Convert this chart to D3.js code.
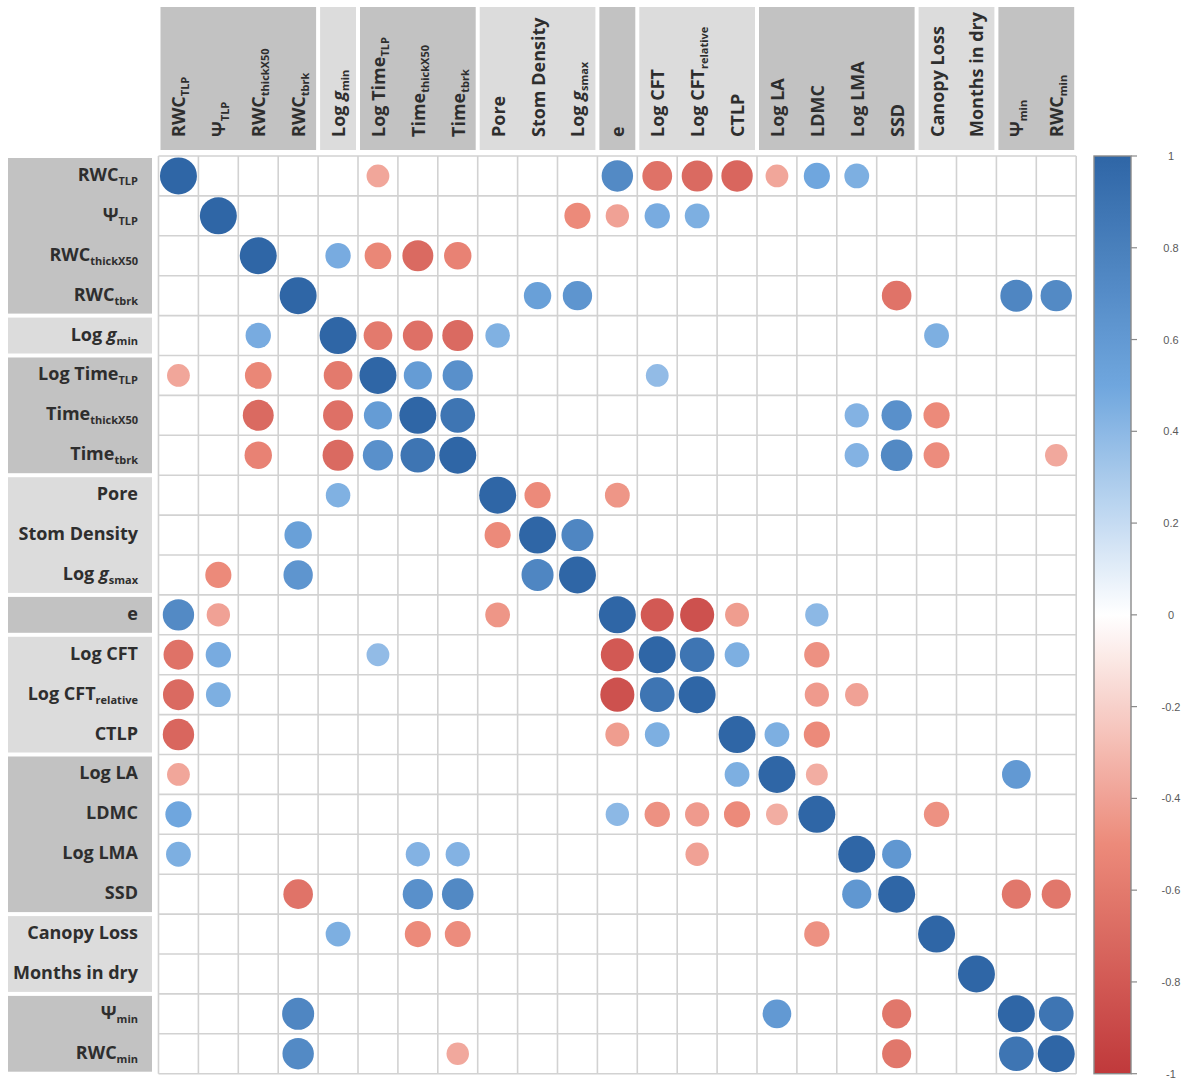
<!DOCTYPE html>
<html>
<head>
<meta charset="utf-8">
<script src="https://cdn.jsdelivr.net/npm/d3@7/dist/d3.min.js"></script>
<style>
  html, body { margin: 0; padding: 0; background: #ffffff; }
  svg { display: block; }
  .lbl { font-family: "Open Sans", "Noto Sans", sans-serif; font-weight: 700; font-size: 18px; fill: #2e2e2e; }
  .cbar text { font-family: "Liberation Sans", Arial, sans-serif; font-size: 11px; fill: #5a5a5a; }
</style>
</head>
<body>
<svg id="chart" width="1192" height="1082"></svg>
<script>
// Trait names; "_" separates the subscript, " g" marks an italic conductance symbol
const variables = [
  "RWC_TLP", "Ψ_TLP", "RWC_thickX50", "RWC_tbrk",
  "Log g_min",
  "Log Time_TLP", "Time_thickX50", "Time_tbrk",
  "Pore", "Stom Density", "Log g_smax",
  "e",
  "Log CFT", "Log CFT_relative", "CTLP",
  "Log LA", "LDMC", "Log LMA", "SSD",
  "Canopy Loss", "Months in dry",
  "Ψ_min", "RWC_min"
];

// Number of traits in each block of the header / row labels
const groupSizes = [4, 1, 3, 3, 1, 3, 4, 2, 2];

// Significant pairwise correlations (matrix is symmetric, diagonal = 1)
const correlations = [
  ["RWC_TLP", "Log Time_TLP", -0.38],
  ["RWC_TLP", "e", 0.72],
  ["RWC_TLP", "Log CFT", -0.65],
  ["RWC_TLP", "Log CFT_relative", -0.70],
  ["RWC_TLP", "CTLP", -0.72],
  ["RWC_TLP", "Log LA", -0.38],
  ["RWC_TLP", "LDMC", 0.50],
  ["RWC_TLP", "Log LMA", 0.45],
  ["Ψ_TLP", "Log g_smax", -0.50],
  ["Ψ_TLP", "e", -0.40],
  ["Ψ_TLP", "Log CFT", 0.47],
  ["Ψ_TLP", "Log CFT_relative", 0.45],
  ["RWC_thickX50", "Log g_min", 0.47],
  ["RWC_thickX50", "Log Time_TLP", -0.52],
  ["RWC_thickX50", "Time_thickX50", -0.70],
  ["RWC_thickX50", "Time_tbrk", -0.55],
  ["RWC_tbrk", "Stom Density", 0.55],
  ["RWC_tbrk", "Log g_smax", 0.63],
  ["RWC_tbrk", "SSD", -0.64],
  ["RWC_tbrk", "Ψ_min", 0.75],
  ["RWC_tbrk", "RWC_min", 0.72],
  ["Log g_min", "Log Time_TLP", -0.60],
  ["Log g_min", "Time_thickX50", -0.66],
  ["Log g_min", "Time_tbrk", -0.70],
  ["Log g_min", "Pore", 0.44],
  ["Log g_min", "Canopy Loss", 0.45],
  ["Log Time_TLP", "Time_thickX50", 0.58],
  ["Log Time_TLP", "Time_tbrk", 0.67],
  ["Log Time_TLP", "Log CFT", 0.38],
  ["Time_thickX50", "Time_tbrk", 0.88],
  ["Time_thickX50", "Log LMA", 0.43],
  ["Time_thickX50", "SSD", 0.67],
  ["Time_thickX50", "Canopy Loss", -0.50],
  ["Time_tbrk", "Log LMA", 0.43],
  ["Time_tbrk", "SSD", 0.73],
  ["Time_tbrk", "Canopy Loss", -0.49],
  ["Time_tbrk", "RWC_min", -0.37],
  ["Pore", "Stom Density", -0.50],
  ["Pore", "e", -0.45],
  ["Stom Density", "Log g_smax", 0.75],
  ["e", "Log CFT", -0.80],
  ["e", "Log CFT_relative", -0.85],
  ["e", "CTLP", -0.42],
  ["e", "LDMC", 0.40],
  ["Log CFT", "Log CFT_relative", 0.88],
  ["Log CFT", "CTLP", 0.45],
  ["Log CFT", "LDMC", -0.47],
  ["Log CFT_relative", "LDMC", -0.43],
  ["Log CFT_relative", "Log LMA", -0.40],
  ["CTLP", "Log LA", 0.45],
  ["CTLP", "LDMC", -0.50],
  ["Log LA", "LDMC", -0.35],
  ["Log LA", "Ψ_min", 0.60],
  ["LDMC", "Canopy Loss", -0.47],
  ["Log LMA", "SSD", 0.62],
  ["SSD", "Ψ_min", -0.62],
  ["SSD", "RWC_min", -0.62],
  ["Ψ_min", "RWC_min", 0.88]
];

// Colour-bar tick values
const legendTicks = [1, 0.8, 0.6, 0.4, 0.2, 0, -0.2, -0.4, -0.6, -0.8, -1];

// ---------------------------------------------------------------------------
const svg = d3.select("#chart");
const gridLeft = 158.5, gridTop = 156, cell = 39.9;
const n = variables.length;

const x = d3.scaleBand().domain(variables).range([gridLeft, gridLeft + n * cell]).padding(0);
const y = d3.scaleBand().domain(variables).range([gridTop, gridTop + n * cell]).padding(0);

const color = d3.scaleLinear()
  .domain([-1, -0.5, 0, 0.5, 1])
  .range(["#c0393b", "#ec8a7a", "#ffffff", "#6fa6de", "#2f66a6"])
  .interpolate(d3.interpolateRgb);
const radius = d3.scaleSqrt().domain([0, 1]).range([0, 18.5]);

// Split a trait name into base text, italic symbol and subscript
function parseLabel(name) {
  const [base, sub] = name.split("_");
  let plain = base, ital = "";
  if (/ g$/.test(base)) { plain = base.slice(0, -1); ital = "g"; }
  return { plain, ital, sub: sub || "" };
}
function writeLabel(textSel, name) {
  const p = parseLabel(name);
  textSel.append("tspan").text(p.plain);
  if (p.ital) textSel.append("tspan").attr("font-style", "italic").text(p.ital);
  if (p.sub) textSel.append("tspan").attr("font-size", 11).attr("dy", 4).text(p.sub);
}

// Group blocks behind the labels
const groups = [];
let acc = 0;
groupSizes.forEach((s, i) => {
  groups.push({ first: variables[acc], last: variables[acc + s - 1], shade: i % 2 === 0 ? "#c2c2c2" : "#dcdcdc" });
  acc += s;
});

const headerTop = 7, headerBottom = 150;
svg.append("g").selectAll("rect").data(groups).join("rect")
  .attr("x", d => x(d.first) + 2)
  .attr("width", d => x(d.last) + x.bandwidth() - x(d.first) - 4)
  .attr("y", headerTop)
  .attr("height", headerBottom - headerTop)
  .attr("fill", d => d.shade);

const rowLabelLeft = 8, rowLabelRight = 152;
svg.append("g").selectAll("rect").data(groups).join("rect")
  .attr("x", rowLabelLeft)
  .attr("width", rowLabelRight - rowLabelLeft)
  .attr("y", d => y(d.first) + 2)
  .attr("height", d => y(d.last) + y.bandwidth() - y(d.first) - 4)
  .attr("fill", d => d.shade);

// Column labels, rotated
svg.append("g").selectAll("text").data(variables).join("text")
  .attr("class", "lbl")
  .attr("transform", d => `translate(${x(d) + x.bandwidth() / 2 + 7},137) rotate(-90)`)
  .each(function (d) { writeLabel(d3.select(this), d); });

// Row labels, right aligned
svg.append("g").selectAll("text").data(variables).join("text")
  .attr("class", "lbl")
  .attr("text-anchor", "end")
  .attr("x", 138)
  .attr("y", d => y(d) + y.bandwidth() / 2 + 5)
  .each(function (d) { writeLabel(d3.select(this), d); });

// Grid
const grid = svg.append("g").attr("stroke", "#d2d2d2").attr("stroke-width", 1.6);
d3.range(n + 1).forEach(i => {
  const px = gridLeft + i * cell, py = gridTop + i * cell;
  grid.append("line").attr("x1", px).attr("x2", px).attr("y1", gridTop).attr("y2", gridTop + n * cell);
  grid.append("line").attr("y1", py).attr("y2", py).attr("x1", gridLeft).attr("x2", gridLeft + n * cell);
});

// Full symmetric cell list
const cells = variables.map(v => ({ a: v, b: v, r: 1 }));
correlations.forEach(([a, b, r]) => {
  cells.push({ a, b, r });
  cells.push({ a: b, b: a, r });
});

svg.append("g").selectAll("circle").data(cells).join("circle")
  .attr("cx", d => x(d.b) + x.bandwidth() / 2)
  .attr("cy", d => y(d.a) + y.bandwidth() / 2)
  .attr("r", d => radius(Math.abs(d.r)))
  .attr("fill", d => color(d.r));

// Colour bar
const barX = 1094, barW = 37;
const legendY = d3.scaleLinear().domain([1, -1]).range([gridTop, gridTop + n * cell]);
const defs = svg.append("defs");
const grad = defs.append("linearGradient").attr("id", "corrGrad")
  .attr("x1", 0).attr("x2", 0).attr("y1", 0).attr("y2", 1);
d3.range(0, 41).forEach(i => {
  const v = 1 - i / 20;
  grad.append("stop").attr("offset", `${(i / 40) * 100}%`).attr("stop-color", color(v));
});
const cbar = svg.append("g").attr("class", "cbar");
cbar.append("rect")
  .attr("x", barX).attr("y", legendY(1))
  .attr("width", barW).attr("height", legendY(-1) - legendY(1))
  .attr("fill", "url(#corrGrad)")
  .attr("stroke", "#8a8a8a").attr("stroke-width", 1.4);
cbar.selectAll("line").data(legendTicks).join("line")
  .attr("x1", barX + barW).attr("x2", barX + barW + 6)
  .attr("y1", d => legendY(d)).attr("y2", d => legendY(d))
  .attr("stroke", "#8a8a8a").attr("stroke-width", 1.2);
cbar.selectAll("text").data(legendTicks).join("text")
  .attr("x", 1171)
  .attr("y", d => legendY(d) + 4)
  .attr("text-anchor", "middle")
  .text(d => String(d));
</script>
</body>
</html>
